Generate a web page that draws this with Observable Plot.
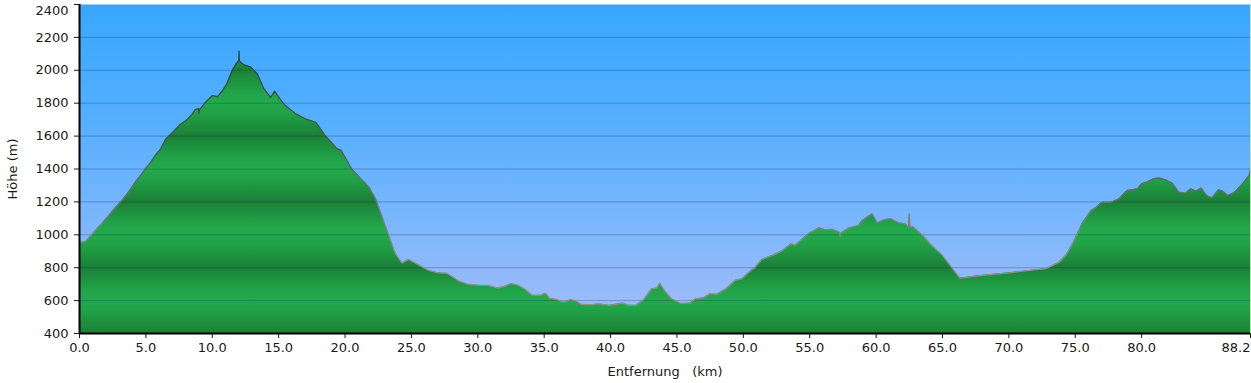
<!DOCTYPE html>
<html>
<head>
<meta charset="utf-8">
<script src="https://cdn.jsdelivr.net/npm/d3@7"></script>
<script src="https://cdn.jsdelivr.net/npm/@observablehq/plot@0.6"></script>
<style>
  html, body { margin: 0; padding: 0; background: #fff; }
  svg text { white-space: pre; }
</style>
</head>
<body>
<div id="chart"></div>
<script>
// Distance along route (km)
const distanceKm = [
  0, 0.45, 0.8, 1.2, 1.6, 2.2, 2.7, 3.2, 3.7, 4.2, 4.6, 5.0, 5.4, 5.7, 6.1, 6.5, 7.0, 7.5, 8.1, 8.5,
  8.7, 8.95, 9.0, 9.05, 9.1, 9.5, 10.0, 10.4, 10.8, 11.1, 11.5, 11.8, 12.0, 12.02, 12.04, 12.2, 12.4, 12.9, 13.4, 13.9,
  14.4, 14.7, 15.1, 15.5, 16.3, 17.0, 17.8, 18.5, 19.4, 19.7, 20.5, 21.2, 21.8, 22.3, 22.8, 23.3, 23.8, 24.3, 24.8, 25.6,
  26.3, 27.0, 27.7, 28.6, 29.3, 30.2, 30.8, 31.5, 32.0, 32.5, 33.0, 33.5, 34.1, 34.7, 35.1, 35.4, 35.9, 36.5, 37.0, 37.4,
  37.8, 38.6, 39.1, 39.9, 40.9, 41.4, 41.9, 42.5, 43.1, 43.5, 43.7, 44.1, 44.6, 45.3, 46.0, 46.4, 47.0, 47.5, 48.0, 48.7,
  49.4, 49.9, 50.4, 50.9, 51.4, 52.2, 52.9, 53.6, 53.9, 54.9, 55.7, 56.2, 56.7, 57.25, 57.3, 57.35, 57.9, 58.7, 58.9, 59.7,
  60.1, 60.2, 60.7, 61.1, 61.7, 62.2, 62.45, 62.5, 62.55, 62.8, 63.5, 64.2, 65.0, 65.7, 66.3, 66.7, 67.5, 70.0, 72.8, 73.3,
  73.8, 74.3, 74.8, 75.4, 75.5, 76.2, 76.6, 77.0, 77.7, 78.3, 78.9, 79.7, 80.0, 80.4, 80.9, 81.3, 81.8, 82.3, 82.8, 83.3,
  83.7, 84.1, 84.5, 84.9, 85.3, 85.8, 86.1, 86.5, 87.0, 87.6, 88.1, 88.2
];
// Elevation (m)
const elevationM = [
  955, 960, 990, 1026, 1060, 1117, 1165, 1209, 1260, 1320, 1360, 1405, 1445, 1482, 1520, 1583, 1620, 1664, 1699, 1735,
  1760, 1768, 1735, 1765, 1765, 1806, 1846, 1840, 1880, 1918, 1998, 2040, 2059, 2116, 2059, 2045, 2033, 2019, 1978, 1887,
  1836, 1873, 1826, 1786, 1735, 1705, 1684, 1604, 1523, 1515, 1401, 1340, 1290, 1219, 1107, 996, 885, 828, 850, 814,
  783, 769, 765, 718, 698, 692, 692, 676, 686, 703, 695, 672, 632, 632, 645, 615, 607, 591, 605, 598,
  577, 575, 581, 571, 585, 571, 571, 605, 672, 676, 706, 658, 611, 583, 585, 611, 617, 642, 638, 672,
  723, 733, 770, 803, 850, 875, 901, 946, 936, 1006, 1043, 1030, 1033, 1015, 985, 1010, 1040, 1057, 1083, 1128,
  1071, 1077, 1093, 1097, 1073, 1067, 1047, 1128, 1047, 1047, 996, 935, 875, 800, 737, 740, 749, 769, 794, 814,
  834, 875, 946, 1047, 1067, 1148, 1168, 1198, 1198, 1219, 1269, 1280, 1310, 1320, 1340, 1346, 1334, 1314, 1259, 1253,
  1280, 1266, 1284, 1239, 1225, 1274, 1266, 1239, 1259, 1310, 1361, 1400
];
const xTicks = [0, 5, 10, 15, 20, 25, 30, 35, 40, 45, 50, 55, 60, 65, 70, 75, 80, 88.2];
const yTicks = [400, 600, 800, 1000, 1200, 1400, 1600, 1800, 2000, 2200, 2400];

const profile = distanceKm.map((d, i) => ({km: d, ele: elevationM[i]}));

const plot = Plot.plot({
  width: 1251,
  height: 383,
  marginLeft: 79,
  marginRight: 1,
  marginTop: 4,
  marginBottom: 50,
  style: {fontFamily: "'DejaVu Sans', Verdana, sans-serif", fontSize: "13px", color: "#1a1a1a", background: "#fff"},
  x: {domain: [0, 88.2], ticks: xTicks, tickFormat: d => d.toFixed(1), tickSize: 5, tickPadding: 4,
      label: "Entfernung\u00a0\u00a0\u00a0(km)", labelAnchor: "center", labelOffset: 42, labelArrow: "none"},
  y: {domain: [400, 2400], ticks: yTicks, tickFormat: d => String(d), tickSize: 5, tickPadding: 6,
      label: "Höhe (m)", labelAnchor: "center", labelOffset: 72, labelArrow: "none"},
  marks: [
    Plot.frame({fill: "url(#sky)", stroke: "none"}),
    Plot.areaY(profile, {x: "km", y1: 400, y2: "ele", fill: "url(#bands)", curve: "linear"}),
    Plot.ruleY(yTicks.filter(t => t > 400 && t < 2400), {stroke: "#10305a", strokeOpacity: 0.3, strokeWidth: 1}),
    Plot.lineY(profile, {x: "km", y: "ele", stroke: "url(#ridge)", strokeWidth: 1.2}),
    Plot.ruleX([88.2], {stroke: "#b8e8b0", strokeWidth: 1}),
    Plot.ruleX([0], {stroke: "#000", strokeWidth: 2}),
    Plot.ruleY([400], {stroke: "#000", strokeWidth: 2})
  ]
});

const ys = plot.scale("y");
const svg = d3.select(plot.tagName.toLowerCase() === "svg" ? plot : plot.querySelector("svg"));

// strip any axis-label arrows (older Plot versions)
svg.selectAll("text").each(function() {
  const t = this.textContent;
  if (t.includes("→") || t.includes("↑")) {
    d3.select(this).selectAll("tspan").size()
      ? d3.select(this).selectAll("tspan").each(function() { this.textContent = this.textContent.replace(/\s*[→↑]\s*/g, ""); })
      : (this.textContent = t.replace(/\s*[→↑]\s*/g, ""));
  }
});
// last x tick label right-aligned at the plot edge; top y label nudged inside
svg.selectAll("[aria-label='x-axis tick label'] text").filter(function() { return this.textContent === "88.2"; })
  .attr("text-anchor", "end");
svg.selectAll("[aria-label='y-axis tick label'] text").filter(function() { return this.textContent === "2400"; })
  .attr("dy", "0.5em");

const defs = svg.insert("defs", ":first-child");

const sky = defs.append("linearGradient").attr("id", "sky")
  .attr("x1", 0).attr("y1", 0).attr("x2", 0).attr("y2", 1);
[[0, "#37a7ff"], [0.35, "#55affe"], [0.65, "#7ab6fd"], [1, "#a8bdf8"]].forEach(([o, c]) =>
  sky.append("stop").attr("offset", o).attr("stop-color", c));

const bands = defs.append("linearGradient").attr("id", "bands")
  .attr("gradientUnits", "userSpaceOnUse").attr("spreadMethod", "repeat")
  .attr("x1", 0).attr("x2", 0).attr("y1", ys.apply(800)).attr("y2", ys.apply(400));
[[0, "#1b7f37"], [0.12, "#1d8d3d"], [0.35, "#21a449"], [0.5, "#22aa4b"], [0.65, "#21a247"], [0.88, "#1d8c3c"], [1, "#1b7f37"]]
  .forEach(([o, c]) => bands.append("stop").attr("offset", o).attr("stop-color", c));

const ridge = defs.append("linearGradient").attr("id", "ridge")
  .attr("gradientUnits", "userSpaceOnUse")
  .attr("x1", 0).attr("x2", 0).attr("y1", ys.apply(2100)).attr("y2", ys.apply(900));
[[0, "#2e3a40"], [0.45, "#4a5258"], [1, "#8e8e8e"]].forEach(([o, c]) =>
  ridge.append("stop").attr("offset", o).attr("stop-color", c));

document.getElementById("chart").appendChild(plot);
</script>
</body>
</html>
